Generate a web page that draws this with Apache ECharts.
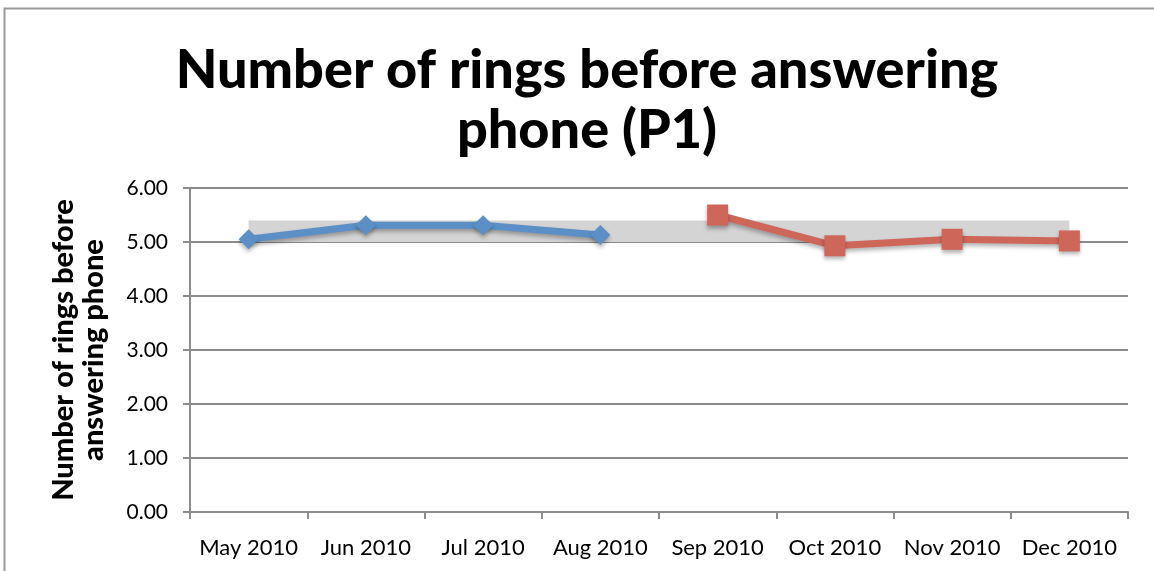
<!DOCTYPE html>
<html><head><meta charset="utf-8">
<script src="https://cdn.jsdelivr.net/npm/echarts@6/dist/echarts.min.js"></script>
<style>html,body{margin:0;padding:0;background:#fff}#c{width:1154px;height:571px}</style>
</head><body><div id="c"></div>
<script>
const categories = ['May 2010','Jun 2010','Jul 2010','Aug 2010','Sep 2010','Oct 2010','Nov 2010','Dec 2010'];
const seriesBefore = [5.05, 5.31, 5.31, 5.13, null, null, null, null];
const seriesAfter = [null, null, null, null, 5.50, 4.93, 5.05, 5.02];
const bandLower = [5.0, 5.0, 5.0, 5.0, 5.0, 5.0, 5.0, 5.0];
const bandWidth = [0.4, 0.4, 0.4, 0.4, 0.4, 0.4, 0.4, 0.4];
const yTicks = [0, 1, 2, 3, 4, 5, 6];
const titleText = 'Number of rings before answering\nphone (P1)';

const chart = echarts.init(document.getElementById('c'));
const font = '"Lato", "Open Sans", sans-serif';
chart.setOption({
  animation: false,
  graphic: [
    {type:'rect', shape:{x:4.5,y:8.5,width:1160,height:600}, style:{fill:'none', stroke:'#999', lineWidth:2}},
    {type:'text', x: 587, y: 41, style: {text: titleText, textAlign: 'center', textVerticalAlign: 'top',
      font: '900 54px "Lato", "Open Sans", sans-serif', lineHeight: 60, fill: '#000'}}
  ],
  grid: {left: 190, right: 26, top: 188, bottom: 59},
  xAxis: {
    type: 'category', data: categories, boundaryGap: true,
    axisLine: {lineStyle: {color: '#8c8c8c', width: 2}},
    axisTick: {show: true, length: 7, lineStyle: {color: '#8c8c8c', width: 2}},
    axisLabel: {fontFamily: font, fontSize: 22, color: '#000', margin: 25, interval: 0}
  },
  yAxis: {
    type: 'value', min: yTicks[0], max: yTicks[yTicks.length-1], interval: 1,
    name: 'Number of rings before\nanswering phone', nameLocation: 'middle', nameGap: 81,
    nameTextStyle: {fontFamily: font, fontWeight: 900, fontSize: 29, lineHeight: 30, color: '#000'},
    axisLine: {show: true, lineStyle: {color: '#8c8c8c', width: 2}},
    axisTick: {show: true, inside: false, length: 7, lineStyle: {color: '#8c8c8c', width: 2}},
    axisLabel: {fontFamily: font, fontSize: 21, color: '#000', margin: 22, formatter: v => v.toFixed(2)},
    splitLine: {lineStyle: {color: '#8c8c8c', width: 2}}
  },
  series: [
    {type: 'line', stack: 'band', data: bandLower, symbol: 'none', lineStyle: {opacity: 0}, z: 1},
    {type: 'line', stack: 'band', data: bandWidth, symbol: 'none', lineStyle: {opacity: 0}, areaStyle: {color: '#d4d4d4', opacity: 1}, z: 1},
    {type: 'line', data: seriesBefore, symbol: 'diamond', symbolSize: 20, z: 5,
     lineStyle: {color: '#5b8fc6', width: 7, shadowColor: 'rgba(0,0,0,0.3)', shadowBlur: 4, shadowOffsetY: 3},
     itemStyle: {color: '#5b8fc6', shadowColor: 'rgba(0,0,0,0.3)', shadowBlur: 4, shadowOffsetY: 3}},
    {type: 'line', data: seriesAfter, symbol: 'rect', symbolSize: 21, z: 5,
     lineStyle: {color: '#cf665a', width: 7, shadowColor: 'rgba(0,0,0,0.3)', shadowBlur: 4, shadowOffsetY: 3},
     itemStyle: {color: '#cf665a', shadowColor: 'rgba(0,0,0,0.3)', shadowBlur: 4, shadowOffsetY: 3}}
  ]
});
</script></body></html>
